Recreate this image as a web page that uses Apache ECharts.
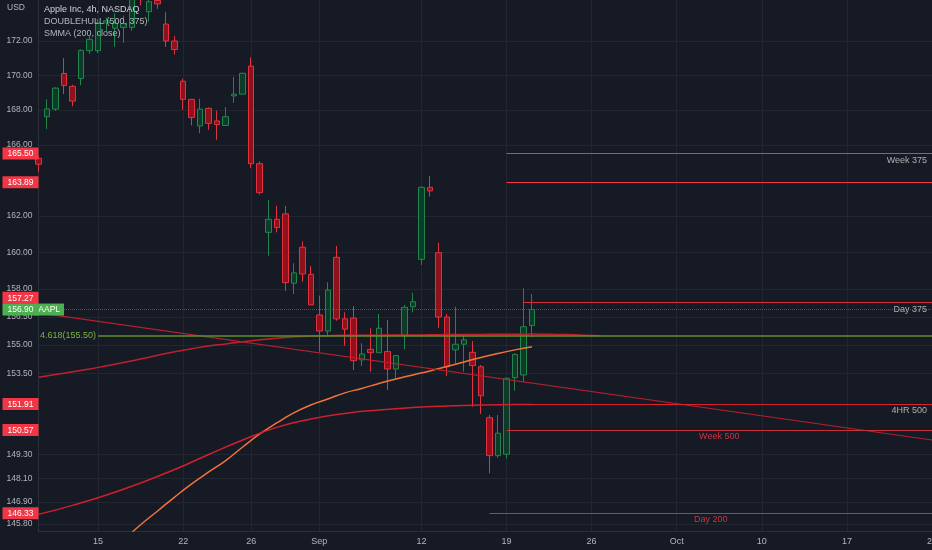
<!DOCTYPE html>
<html>
<head>
<meta charset="utf-8">
<script src="https://cdn.jsdelivr.net/npm/echarts@6/dist/echarts.min.js"></script>
<style>
html,body{margin:0;padding:0;background:#161a25;}
#c{width:932px;height:550px;}
</style>
</head>
<body>
<div id="c"></div>
<script>
// ---------------- data ----------------
const tradingDays = [
  '2022-08-09','2022-08-10','2022-08-11','2022-08-12','2022-08-15','2022-08-16','2022-08-17','2022-08-18','2022-08-19',
  '2022-08-22','2022-08-23','2022-08-24','2022-08-25','2022-08-26','2022-08-29','2022-08-30','2022-08-31',
  '2022-09-01','2022-09-02','2022-09-06','2022-09-07','2022-09-08','2022-09-09','2022-09-12','2022-09-13','2022-09-14',
  '2022-09-15','2022-09-16','2022-09-19','2022-09-20','2022-09-21','2022-09-22','2022-09-23','2022-09-26','2022-09-27',
  '2022-09-28','2022-09-29','2022-09-30','2022-10-03','2022-10-04','2022-10-05','2022-10-06','2022-10-07','2022-10-10',
  '2022-10-11','2022-10-12','2022-10-13','2022-10-14','2022-10-17','2022-10-18','2022-10-19','2022-10-20','2022-10-21',
  '2022-10-24'
];
const sessions = ['09:30', '13:30'];

const tickDays  = ['2022-08-15','2022-08-22','2022-08-26','2022-09-01','2022-09-12','2022-09-19','2022-09-26','2022-10-03','2022-10-10','2022-10-17','2022-10-24'];
const tickTexts = ['15','22','26','Sep','12','19','26','Oct','10','17','24'];

const priceTicks = [172, 170, 168, 166, 162, 160, 158, 156.5, 155, 153.5, 149.3, 148.1, 146.9, 145.8];

// 4h candles: [open, close, low, high]
const candles = [
  [165.23,164.90,164.44,165.35],
  [167.60,168.05,166.90,168.60],[168.04,169.25,167.95,169.30],
  [170.10,169.40,168.90,171.00],[169.35,168.50,168.20,169.45],
  [169.80,171.45,169.42,171.50],[171.43,172.10,171.24,172.30],
  [171.43,173.07,171.28,173.30],[173.07,173.19,172.60,173.39],
  [172.75,173.05,171.66,173.64],[172.80,173.03,171.90,173.50],
  [172.80,175.30,172.60,176.15],[175.30,174.55,174.10,175.60],
  [173.73,174.33,173.14,174.60],[174.40,174.20,173.90,174.90],
  [173.00,172.00,171.65,173.70],[172.00,171.50,171.20,172.30],
  [169.65,168.60,168.00,169.80],[168.60,167.55,167.10,168.60],
  [167.07,168.04,166.66,168.64],[168.08,167.22,166.85,168.13],
  [167.36,167.15,166.28,167.95],[167.10,167.60,167.10,168.15],
  [168.80,168.90,168.40,169.90],[168.90,170.11,168.90,170.14],
  [170.53,164.93,164.69,171.04],[164.93,163.30,163.20,165.06],
  [161.10,161.82,159.82,162.90],[161.82,161.36,161.10,162.57],
  [162.12,158.35,157.91,162.56],[158.32,158.88,157.74,159.40],
  [160.28,158.82,158.40,160.59],[158.80,157.15,157.15,159.25],
  [156.61,155.75,154.66,157.65],[155.75,157.95,155.50,158.37],
  [159.73,156.40,156.30,160.35],[156.40,155.85,154.97,156.75],
  [156.44,154.18,153.68,157.09],[154.22,154.53,153.90,155.10],
  [154.78,154.60,153.60,155.90],[154.60,155.90,154.60,156.66],
  [154.66,153.74,152.64,156.34],[153.74,154.45,153.25,154.45],
  [155.50,157.02,154.78,157.15],[157.05,157.32,156.75,157.80],
  [159.62,163.60,159.31,163.65],[163.60,163.40,163.08,164.23],
  [159.98,156.50,155.90,160.53],[156.50,153.86,153.37,156.66],
  [154.75,155.05,154.04,157.05],[155.05,155.28,153.60,155.54],
  [154.62,153.92,151.77,155.22],[153.86,152.34,151.39,153.95],
  [151.20,149.25,148.35,151.34],[149.25,150.40,149.14,151.34],
  [149.32,153.25,149.11,153.30],[153.28,154.51,152.60,154.57],
  [153.43,155.98,153.07,158.04],[156.04,156.90,155.42,157.73]
];

// indicator readings: [bar index, price]
const hull375 = [[0,153.31],[2,153.45],[4,153.59],[6,153.74],[8,153.91],[10,154.08],[12,154.27],[14,154.46],[16,154.65],
  [18,154.81],[20,154.96],[22,155.06],[24,155.18],[26,155.29],[28,155.37],[30,155.44],[32,155.48],[34,155.50],[36,155.52],
  [38,155.52],[40,155.53],[42,155.54],[44,155.54],[46,155.55],[48,155.56],[50,155.57],[52,155.57],[54,155.58],[56,155.58],
  [58,155.59],[60,155.58],[62,155.56],[64,155.53],[66,155.50]];
const hull500 = [[0,146.28],[4,146.73],[8,147.25],[12,147.86],[16,148.54],[20,149.31],[24,150.05],[28,150.70],[32,151.13],
  [36,151.42],[40,151.60],[44,151.73],[48,151.81],[52,151.86],[56,151.88],[58,151.89]];
const smma200 = [[10,145.00],[12,145.76],[14,146.45],[16,147.15],[18,147.81],[20,148.42],[22,149.00],[24,149.69],[26,150.36],
  [28,150.93],[30,151.45],[32,151.86],[34,152.17],[36,152.49],[38,152.72],[40,152.98],[42,153.22],[44,153.43],[46,153.64],
  [48,153.87],[50,154.11],[52,154.35],[54,154.56],[56,154.75],[58,154.92]];
const trendLine = [[0,156.72],[105,150.05]];

const levelNames    = ['Week 375', '', 'Day 375', '4HR 500', 'Week 500', 'Day 200'];
const levelValues   = [165.50, 163.89, 157.27, 151.91, 150.57, 146.33];
const levelStartBar = [55, 55, 57, 58, 55, 53];

const fibRatio = '4.618';
const fibPrice = 155.50;
const fibStartBar = 7;
const symbolName = 'AAPL';
const legendLines = ['Apple Inc, 4h, NASDAQ', 'DOUBLEHULL (500, 375)', 'SMMA (200, close)'];
const currency = 'USD';

// ---------------- build ----------------
const categories = [];
tradingDays.forEach((d, k) => {
  sessions.forEach((s, j) => {
    if (k === 0 && j === 0) return;
    if (k === tradingDays.length - 1 && j === 1) return;
    categories.push(d + ' ' + s);
  });
});
const tickText = {};
tickDays.forEach((d, k) => { tickText[d + ' ' + sessions[0]] = tickTexts[k]; });
const lastCat = categories[categories.length - 1];
const lastClose = candles[candles.length - 1][1];

const FONT = '"Liberation Sans", Arial, sans-serif';
const RED = '#f23645';
const GREEN = '#4caf50';

const levelLook = [
  {line: '#f23645', text: '#a9b1ad', pos: 'insideEndBottom', dist: [5, 2]},
  {line: '#f23645', text: '#a9b1ad', pos: 'insideEndBottom', dist: [5, 2]},
  {line: '#d3303c', text: '#a9b1ad', pos: 'insideEndBottom', dist: [5, 2]},
  {line: '#d8232f', text: '#a9b1ad', pos: 'insideEndBottom', dist: [5, 2]},
  {line: '#c8303b', text: '#d03340', pos: 'insideMiddleBottom', dist: [0, 2]},
  {line: '#b8383f', text: '#c93440', pos: 'insideMiddleBottom', dist: [0, 2]}
];

function tag(value, text, bg, shift) {
  return {
    yAxis: value,
    lineStyle: {color: 'rgba(0,0,0,0)', width: 0},
    label: {
      show: true, position: 'start', distance: 0,
      formatter: '{t|' + text + '}',
      padding: [0, 0, shift || 0, 0],
      rich: {t: {backgroundColor: bg, color: '#ffffff', fontSize: 8.5, fontFamily: FONT, padding: [2, 5, 1, 5], lineHeight: 9}}
    }
  };
}

const markItems = [];
levelValues.forEach((v, k) => {
  const st = levelLook[k];
  const ls = {color: st.line, width: 1, type: 'solid', opacity: 1};
  markItems.push([
    {coord: [categories[levelStartBar[k]], v], lineStyle: ls,
     label: {show: !!levelNames[k], formatter: levelNames[k], position: st.pos, distance: st.dist,
             color: st.text, fontSize: 9, fontFamily: FONT}},
    {coord: [lastCat, v], lineStyle: ls}
  ]);
});
markItems.push([
  {coord: [categories[fibStartBar], fibPrice],
   lineStyle: {color: '#5e8f2e', width: 1.5, type: 'solid'},
   label: {show: true, position: 'start', distance: 2, formatter: fibRatio + '(' + fibPrice.toFixed(2) + ')',
           color: '#7cb342', fontSize: 9, fontFamily: FONT}},
  {coord: [lastCat, fibPrice]}
]);
markItems.push([
  {coord: [categories[3], lastClose],
   lineStyle: {color: '#2f6b45', width: 1, type: 'dotted'},
   label: {show: true, position: 'start', distance: 0, formatter: '{t|' + symbolName + '}',
           rich: {t: {backgroundColor: GREEN, color: '#ffffff', fontSize: 8.5, fontFamily: FONT, padding: [2, 4, 1, 4], lineHeight: 9}}}},
  {coord: [lastCat, lastClose]}
]);
levelValues.forEach((v, k) => {
  markItems.push(tag(v, v.toFixed(2), RED, levelNames[k] === 'Day 375' ? 10 : 0));
});
markItems.push(tag(lastClose, lastClose.toFixed(2), GREEN, 0));

const chart = echarts.init(document.getElementById('c'));
chart.setOption({
  backgroundColor: '#161a25',
  animation: false,
  textStyle: {fontFamily: FONT},
  title: [
    {text: legendLines[0], left: 44, top: 5.5, padding: 0, textStyle: {fontSize: 9, color: '#d1d4dc', fontWeight: 'normal', fontFamily: FONT}},
    {text: legendLines[1], left: 44, top: 17.5, padding: 0, textStyle: {fontSize: 9, color: '#b2b5be', fontWeight: 'normal', fontFamily: FONT}},
    {text: legendLines[2], left: 44, top: 29, padding: 0, textStyle: {fontSize: 9, color: '#b2b5be', fontWeight: 'normal', fontFamily: FONT}},
    {text: currency, left: 7, top: 3.5, padding: 0, textStyle: {fontSize: 8.5, color: '#b2b5be', fontWeight: 'normal', fontFamily: FONT}}
  ],
  grid: {left: 38.5, right: 0, top: 0, bottom: 19, containLabel: false, outerBoundsMode: 'none'},
  xAxis: {
    type: 'category', data: categories, boundaryGap: false,
    axisLine: {show: true, lineStyle: {color: '#2c303b'}},
    axisTick: {show: false},
    axisLabel: {
      interval: (i, v) => v in tickText,
      formatter: v => tickText[v] || '',
      color: '#b2b5be', fontSize: 9, margin: 6, fontFamily: FONT
    },
    splitLine: {show: true, interval: (i, v) => v in tickText, lineStyle: {color: '#222631', width: 1}}
  },
  yAxis: {
    type: 'log', logBase: 10, min: 145.45, max: 174.43,
    axisLine: {show: true, lineStyle: {color: '#2c303b'}},
    axisTick: {show: false, customValues: priceTicks},
    axisLabel: {customValues: priceTicks, formatter: v => Number(v).toFixed(2), color: '#b2b5be', fontSize: 8.5, margin: 6, fontFamily: FONT},
    splitLine: {show: true, lineStyle: {color: '#222631', width: 1}}
  },
  series: [
    {
      type: 'candlestick', data: candles, barWidth: 6, z: 2,
      itemStyle: {color: '#0c3c27', color0: '#8f111b', borderColor: '#22864c', borderColor0: '#e2323f', borderWidth: 1}
    },
    {type: 'line', data: smma200, smooth: true, showSymbol: false, z: 3, lineStyle: {color: '#f0743a', width: 1.5}, silent: true},
    {type: 'line', data: hull375, smooth: true, showSymbol: false, z: 3, lineStyle: {color: '#c0202d', width: 1.5}, silent: true},
    {type: 'line', data: hull500, smooth: true, showSymbol: false, z: 3, lineStyle: {color: '#d01f2f', width: 1.5}, silent: true},
    {
      type: 'line', data: trendLine, showSymbol: false, z: 4, lineStyle: {color: '#b5202e', width: 1.2}, silent: true,
      markLine: {silent: true, symbol: ['none', 'none'], animation: false, data: markItems}
    }
  ]
});
</script>
</body>
</html>
